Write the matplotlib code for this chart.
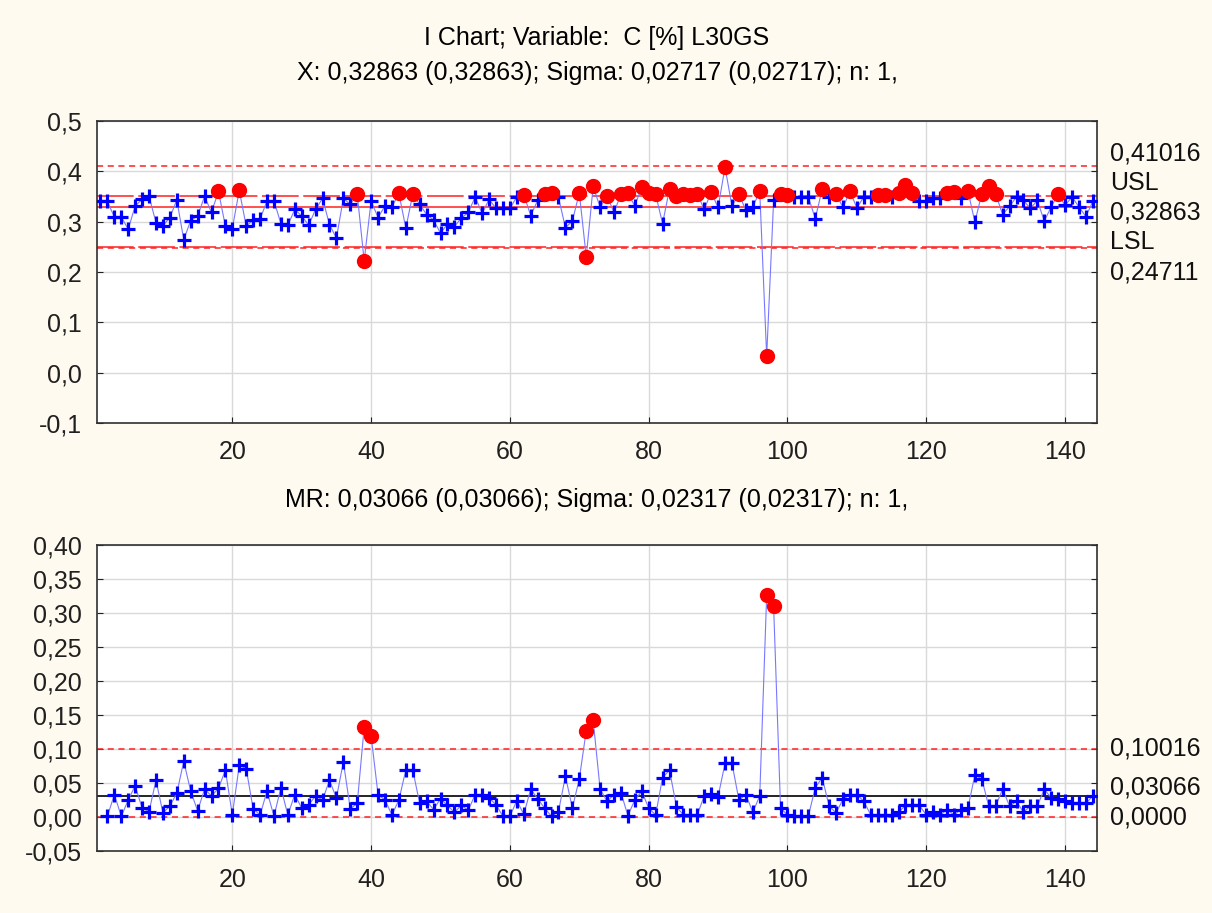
import matplotlib.pyplot as plt
import numpy as np
from matplotlib.ticker import FuncFormatter, MultipleLocator
from matplotlib.transforms import blended_transform_factory

plt.rcParams['font.family'] = ['Liberation Sans', 'DejaVu Sans']

# individual values (C [%] L30GS), samples 1..144
i_values = [
    0.341, 0.340, 0.309, 0.309, 0.285, 0.331, 0.344, 0.350, 0.298, 0.292,
    0.308, 0.343, 0.264, 0.302, 0.311, 0.350, 0.318, 0.360, 0.291, 0.286,
    0.362, 0.291, 0.303, 0.305, 0.341, 0.341, 0.296, 0.293, 0.324, 0.311,
    0.293, 0.324, 0.346, 0.294, 0.267, 0.346, 0.334, 0.354, 0.222, 0.341,
    0.308, 0.331, 0.329, 0.356, 0.287, 0.354, 0.334, 0.314, 0.303, 0.277,
    0.295, 0.290, 0.307, 0.318, 0.349, 0.316, 0.344, 0.326, 0.326, 0.326,
    0.349, 0.353, 0.312, 0.342, 0.355, 0.356, 0.348, 0.288, 0.301, 0.357,
    0.230, 0.370, 0.328, 0.351, 0.318, 0.354, 0.356, 0.331, 0.369, 0.356,
    0.354, 0.296, 0.365, 0.351, 0.354, 0.352, 0.355, 0.324, 0.358, 0.328,
    0.408, 0.330, 0.355, 0.322, 0.329, 0.360, 0.033, 0.342, 0.355, 0.353,
    0.349, 0.349, 0.349, 0.306, 0.364, 0.348, 0.354, 0.328, 0.360, 0.327,
    0.349, 0.348, 0.352, 0.353, 0.349, 0.356, 0.373, 0.357, 0.340, 0.341,
    0.347, 0.347, 0.357, 0.359, 0.347, 0.361, 0.299, 0.355, 0.371, 0.355,
    0.314, 0.330, 0.349, 0.342, 0.326, 0.342, 0.301, 0.329, 0.355, 0.332,
    0.349, 0.329, 0.310, 0.340,
]

# moving ranges, samples 2..144
mr_values = [
    0.001, 0.033, 0.001, 0.025, 0.046, 0.013, 0.008, 0.054, 0.006,
    0.016, 0.035, 0.082, 0.038, 0.009, 0.041, 0.031, 0.042, 0.069, 0.003,
    0.076, 0.071, 0.012, 0.003, 0.038, 0.001, 0.043, 0.003, 0.033, 0.013,
    0.018, 0.031, 0.025, 0.054, 0.028, 0.081, 0.012, 0.020, 0.132, 0.119,
    0.033, 0.025, 0.003, 0.025, 0.069, 0.069, 0.020, 0.023, 0.011, 0.027,
    0.017, 0.007, 0.017, 0.010, 0.033, 0.033, 0.028, 0.018, 0.001, 0.001,
    0.024, 0.004, 0.041, 0.027, 0.013, 0.001, 0.008, 0.060, 0.013, 0.056,
    0.127, 0.142, 0.041, 0.023, 0.033, 0.036, 0.002, 0.025, 0.038, 0.013,
    0.003, 0.058, 0.069, 0.015, 0.003, 0.003, 0.003, 0.031, 0.034, 0.030,
    0.079, 0.079, 0.025, 0.033, 0.007, 0.031, 0.326, 0.310, 0.013, 0.003,
    0.002, 0.001, 0.001, 0.043, 0.058, 0.016, 0.006, 0.026, 0.033, 0.033,
    0.023, 0.003, 0.003, 0.003, 0.003, 0.007, 0.017, 0.017, 0.017, 0.003,
    0.007, 0.003, 0.011, 0.003, 0.011, 0.013, 0.062, 0.056, 0.016, 0.016,
    0.041, 0.016, 0.023, 0.007, 0.016, 0.016, 0.041, 0.028, 0.026, 0.023,
    0.020, 0.020, 0.020, 0.031,
]

ucl_i, cl_i, lcl_i = 0.41016, 0.32863, 0.24711
usl, lsl = 0.35, 0.25
ucl_mr, cl_mr, lcl_mr = 0.10016, 0.03066, 0.0

title_i = "I Chart; Variable:  C [%] L30GS"
sub_i = "X: 0,32863 (0,32863); Sigma: 0,02717 (0,02717); n: 1,"
sub_mr = "MR: 0,03066 (0,03066); Sigma: 0,02317 (0,02317); n: 1,"

bg = '#fffaf0'
fs = 18

fig = plt.figure(figsize=(12.12, 9.13), dpi=100, facecolor=bg)
W, H = 1212, 913
ax1 = fig.add_axes([97 / W, 1 - 423.3 / H, 1000 / W, 302.6 / H])
ax2 = fig.add_axes([97 / W, 1 - 851 / H, 1000 / W, 306 / H])


def comma(fmt):
    return FuncFormatter(lambda v, p: (fmt % v).replace('.', ','))


def draw_series(ax, x, y, lo, hi):
    x = np.asarray(x)
    y = np.asarray(y)
    bad = (y > hi) | (y < lo)
    ax.plot(x, y, color='#7878ff', lw=0.8, zorder=3)
    ax.plot(x[~bad], y[~bad], '+', color='#0000ff', ms=10, mew=2.3, zorder=4)
    ax.plot(x[bad], y[bad], 'o', color='#ff0000', ms=10, mec='#ff0000', zorder=5)


def style(ax, ylim, step, fmt):
    ax.set_facecolor('white')
    ax.set_xlim(0.5, 144.6)
    ax.set_ylim(*ylim)
    ax.xaxis.set_major_locator(MultipleLocator(20))
    ax.yaxis.set_major_locator(MultipleLocator(step))
    ax.yaxis.set_major_formatter(comma(fmt))
    ax.grid(True, color='#d9d9d9', lw=1, zorder=0)
    ax.set_axisbelow(True)
    ax.tick_params(direction='in', length=4, labelsize=fs, colors='#202020',
                   right=True)
    ax.tick_params(axis='x', pad=12)
    ax.tick_params(axis='y', pad=11)
    for s in ax.spines.values():
        s.set_color('#303030')
        s.set_linewidth(1.2)


def side_label(ax, value, text, dy_px):
    tr = blended_transform_factory(ax.transAxes, ax.transData)
    ax.annotate(text, xy=(1, value), xycoords=tr, xytext=(9.5, dy_px * 0.72),
                textcoords='offset points', ha='left', va='center',
                fontsize=fs, color='#111111', annotation_clip=False)


# I chart
style(ax1, (-0.1, 0.5), 0.1, '%.1f')
ax1.axhline(ucl_i, color='#ff2020', lw=1.1, ls=(0, (4, 3)), zorder=2)
ax1.axhline(lcl_i, color='#ff2020', lw=1.1, ls=(0, (4, 3)), zorder=2)
ax1.axhline(usl, color='#ff2020', lw=1.1, ls=(0, (24, 3)), zorder=2)
ax1.axhline(lsl, color='#ff2020', lw=1.1, ls=(0, (24, 3)), zorder=2)
ax1.axhline(cl_i, color='#ff2020', lw=1.1, zorder=2)
draw_series(ax1, np.arange(1, len(i_values) + 1), i_values, lsl, usl)
side_label(ax1, ucl_i, '0,41016', 13)
side_label(ax1, usl, 'USL', 13)
side_label(ax1, cl_i, '0,32863', -5)
side_label(ax1, lsl, 'LSL', 5)
side_label(ax1, lcl_i, '0,24711', -24)

# MR chart
style(ax2, (-0.05, 0.40), 0.05, '%.2f')
ax2.axhline(ucl_mr, color='#ff2020', lw=1.1, ls=(0, (4, 3)), zorder=2)
ax2.axhline(lcl_mr, color='#ff2020', lw=1.1, ls=(0, (4, 3)), zorder=2)
ax2.axhline(cl_mr, color='black', lw=1.2, zorder=2)
draw_series(ax2, np.arange(2, len(mr_values) + 2), mr_values, -1, ucl_mr)
side_label(ax2, ucl_mr, '0,10016', 0)
side_label(ax2, cl_mr, '0,03066', 9)
side_label(ax2, lcl_mr, '0,0000', 0)

fig.text(597 / W, 1 - 38 / H, title_i, ha='center', va='center', fontsize=fs)
fig.text(597 / W, 1 - 73 / H, sub_i, ha='center', va='center', fontsize=fs)
fig.text(597 / W, 1 - 500 / H, sub_mr, ha='center', va='center', fontsize=fs)

fig.savefig('out.png', dpi=100, facecolor=bg)
